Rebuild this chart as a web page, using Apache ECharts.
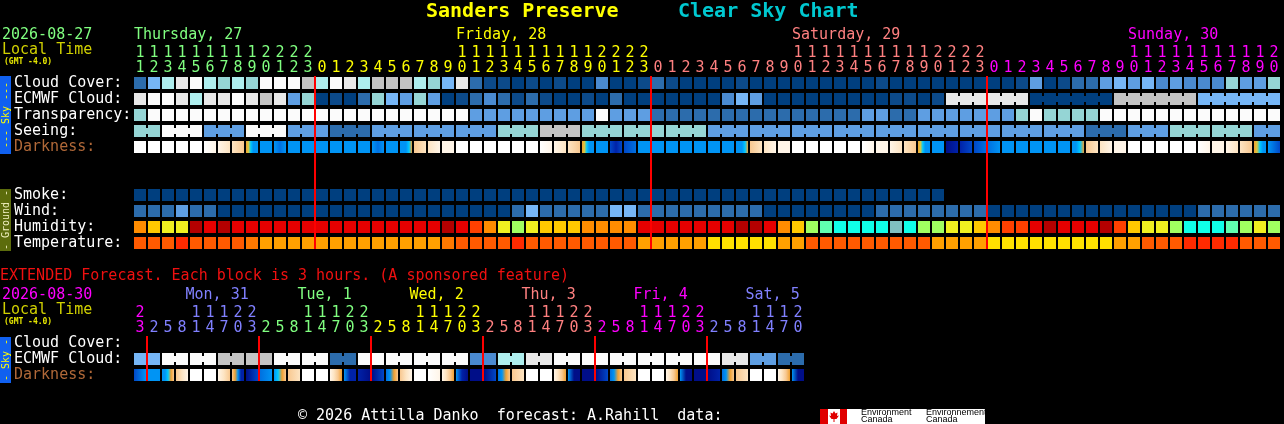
<!DOCTYPE html>
<html><head><meta charset="utf-8">
<script src="https://cdn.jsdelivr.net/npm/echarts@6/dist/echarts.min.js"></script>
<style>html,body{margin:0;padding:0;background:#000;overflow:hidden}#c{width:1284px;height:424px}</style>
</head><body><div id="c"></div>
<script>
// ---------------- DATA ----------------
const titleName = 'Sanders Preserve';
const titleChart = 'Clear Sky Chart';
const mainDate = '2026-08-27';
const extDate = '2026-08-30';
const mainDayNames = ['Thursday, 27', 'Friday, 28', 'Saturday, 29', 'Sunday, 30'];
const extDayNames = ['', 'Mon, 31', 'Tue, 1', 'Wed, 2', 'Thu, 3', 'Fri, 4', 'Sat, 5'];
const mainRows = ['Cloud Cover:', 'ECMWF Cloud:', 'Transparency:', 'Seeing:', 'Darkness:', ' ', '  ', 'Smoke:', 'Wind:', 'Humidity:', 'Temperature:'];
const extRows = ['Cloud Cover:', 'ECMWF Cloud:', 'Darkness:'];

const mainHours = [11,12,13,14,15,16,17,18,19,20,21,22,23,
  0,1,2,3,4,5,6,7,8,9,10,11,12,13,14,15,16,17,18,19,20,21,22,23,
  0,1,2,3,4,5,6,7,8,9,10,11,12,13,14,15,16,17,18,19,20,21,22,23,
  0,1,2,3,4,5,6,7,8,9,10,11,12,13,14,15,16,17,18,19,20];
const extHours = [23,
  2,5,8,11,14,17,20,23, 2,5,8,11,14,17,20,23, 2,5,8,11,14,17,20,23,
  2,5,8,11,14,17,20,23, 2,5,8,11,14,17,20,23, 2,5,8,11,14,17,20];

// level indices: 0 = darkest blue (best) ... 10 = white
const cloudCover = [2,5,7,9,10,7,6,7,6,10, 10,10,8,7,10,9,7,8,8,8, 7,6,5,9,2,1,1,0,1,0,
  1,0,0,3,0,0,1,2,1,0, 0,0,0,1,0,0,0,0,0,0, 0,0,0,1,0,0,0,0,0,0,
  0,0,0,1,4,0,1,2,2,4, 5,4,5,3,4,3,3,3,6,4, 4,6];
const ecmwfCloud = [9,10,10,9,7,9,9,10,9,8, 9,4,6,0,1,0,2,6,5,4, 6,4,0,1,2,3,2,1,2,1,
  0,0,1,0,2,0,0,0,0,0, 0,0,3,5,4,0,0,0,0,0, 0,0,0,0,1,1,0,1,9,9,
  9,9,9,9,0,0,0,0,0,0, 8,8,8,8,8,8,5,5,5,5, 5,5];
const transparency = [6,10,10,10,10,10,10,10,10,10, 10,10,10,10,10,10,10,10,10,10, 10,10,10,10,4,4,4,4,4,4,
  4,4,4,10,4,4,4,2,2,2, 2,2,2,2,2,2,2,2,2,2, 2,2,4,4,2,2,4,4,4,4,
  4,4,4,6,10,6,6,6,6,10, 10,10,10,10,10,10,10,10,10,10, 10,10];
const seeing = [6,6,10,10,10,4,4,4,10,10, 10,4,4,4,2,2,2,4,4,4, 4,4,4,4,4,4,6,6,6,8,
  8,8,6,6,6,6,6,6,6,6, 6,4,4,4,4,4,4,4,4,4, 4,4,4,4,4,4,4,4,4,4,
  4,4,4,4,4,4,4,4,2,2, 2,4,4,4,6,6,6,6,6,6, 4,4];
// darkness: colour stops (left to right) inside each hourly block
const darkness = [[0],[0],[0],[0],[0],[0,1],[1,2],[2,3],[4,5,6,7,7,7],[7],
  [7,8,7],[7],[7],[7],[7],[7],[7],[7,8,7],[7],[7,7,7,6,4],
  [3,2],[2,1],[1],[0],[0],[0],[0],[0],[0],[0,1],
  [1,2],[2,3],[4,5,6,7,7,7],[7],[9,10,9],[9,8],[7],[7],[7],[7],
  [7],[7],[7],[7,7,7,6,4],[3,2],[2,1],[1],[0],[0],[0],
  [0],[0],[0,1],[1],[1,2],[2,3],[4,5,6,7,7,7],[7],[11,10],[10,9],
  [9,8],[8,7],[7],[7],[7],[7],[7],[7,7,6,4],[3,2],[2,1],
  [1],[0],[0],[0],[0],[0],[0,1],[1,1],[1,2],[2,3],
  [4,5,6,7,7],[7,9]];
const smoke = [0,0,0,0,0,0,0,0,0,0, 0,0,0,0,0,0,0,0,0,0, 0,0,0,0,0,0,0,0,0,0,
  0,0,0,0,0,0,0,0,0,0, 0,0,0,0,0,0,0,0,0,0, 0,0,0,0,0,0,0,0];
const wind = [2,2,2,4,2,2,0,0,0,0, 0,0,0,0,0,0,0,0,0,0, 0,0,0,0,0,0,0,2,5,2,
  2,2,2,2,5,5,2,2,2,2, 2,2,2,2,2,0,0,0,0,0, 0,0,0,2,2,2,2,2,2,2,
  2,0,0,0,0,0,0,0,0,0, 0,0,0,0,0,0,2,2,2,2, 2,2];
const humidity = [6,5,4,4,9,8,9,8,8,8, 8,8,8,8,8,8,8,8,8,8, 8,8,9,8,7,6,4,3,4,5,
  5,5,6,6,6,6,8,8,8,8, 8,8,8,9,9,8,6,5,3,2, 1,1,1,1,0,1,3,3,4,4,
  5,6,7,7,8,9,8,8,8,9, 7,5,4,4,3,1,1,1,2,3, 4,3];
const temperature = [3,3,3,4,3,3,3,3,2,1, 1,1,1,1,1,1,1,1,1,1, 1,1,2,3,3,3,3,4,3,3,
  3,3,3,3,3,3,1,1,1,1, 1,0,0,0,0,0,1,1,3,3, 3,3,3,3,3,3,3,1,1,1,
  1,0,0,0,0,0,0,0,0,0, 1,1,3,3,3,4,4,4,4,3, 3,3];

const extCloudCover = [];
const extEcmwf = [5,5,10,10,10,10,8,8,8,8, 10,10,10,10,2,2,10,10,10,10,
  10,10,10,10,3,3,7,7,9,9, 10,10,10,10,10,10,10,10,10,10, 10,10,9,9,4,4,2,2];
const extDarkness = [[9,7],[7],[7,7,6,4,3],[3,2,1],[0],[0],[1,2,3],[3,4,7,10,10],[11,9],[8,7],
  [7,6,4,3],[3,2],[0],[0],[1,2,3,4],[7,10,10],[10,11],[11,9],[8,7,4,3],[3,2,1],
  [0],[0,1],[1,2,3,4],[7,10,11],[11,11],[11,9],[8,7,4,3],[3,2],[0],[0],
  [1,2,3,4],[7,11,11],[11],[11,9],[8,7,4,3],[3,2],[0],[0],[1,2,3,4],[7,11,11],
  [11],[11,10],[8,7,4,3],[3,2],[0],[0],[1,2,3,4],[7,11,11]];

// ---------------- STYLE ----------------
const FONT = '"DejaVu Sans Mono", monospace';
const skyPal = ['#003f7f','#0c4a8a','#2c6cac','#4a8ad0','#5e9ee2','#76b6f6','#95d5d5','#aeeeee','#c4c4c4','#e8e8e8','#fbfbfb'];
const darkPal = ['#ffffff','#fff5e8','#fde4c2','#f8c890','#f0a030','#d8c840','#00c8ff','#0094f4','#0070e0','#0048c8','#0022a8','#000e88'];
const humPal = ['#80c0c0','#10ffe8','#60ffb0','#a0ff60','#f0f020','#ffc800','#ff8c00','#ff4000','#e60000','#b40000'];
const tempPal = ['#ffe000','#ffa000','#ff7800','#ff5a00','#ff2a00'];
const dayCycle = ['#80ff80','#ffff00','#ff8080','#ff00ff','#8080ff'];
const BROWN = '#b06838';

function dayIndexFor(hours, start) {
  let d = start;
  return hours.map((h, i) => { if (i > 0 && h < hours[i - 1]) d++; return d; });
}
const mainDayOf = dayIndexFor(mainHours, 0);
const extDayOf = dayIndexFor(extHours, 3);

function darkFill(stops) {
  if (stops.length === 1) return darkPal[stops[0]];
  return new echarts.graphic.LinearGradient(0, 0, 1, 0,
    stops.map((s, k) => ({ offset: k / (stops.length - 1), color: darkPal[s] })));
}

function blockSeries(g, row, values, colorOf, joinTest) {
  const data = [];
  values.forEach((v, i) => { if (v !== null && v !== undefined) data.push([i, row]); });
  return {
    type: 'custom', xAxisIndex: g, yAxisIndex: g, silent: true, animation: false, z: 2,
    data,
    renderItem(params, api) {
      const col = api.value(0);
      const p = api.coord([col, api.value(1)]);
      const bw = api.size([1, 0])[0];
      const v = values[col];
      const fill = colorOf(v);
      const children = [{ type: 'rect', shape: { x: p[0] - 6, y: p[1] - 6, width: 12, height: 12 }, style: { fill } }];
      if (joinTest && col + 1 < values.length && values[col + 1] === v && joinTest(col)) {
        children.push({ type: 'rect', shape: { x: p[0] + 6, y: p[1] - 3, width: bw - 12, height: 6 }, style: { fill } });
      }
      return { type: 'group', children };
    }
  };
}

function midnightSeries(g, hours) {
  const data = [];
  hours.forEach((h, i) => { if (i > 0 && h < hours[i - 1]) data.push([i, 0]); });
  return {
    type: 'custom', xAxisIndex: g, yAxisIndex: g, silent: true, animation: false, z: 5, data,
    renderItem(params, api) {
      const p = api.coord([api.value(0), 0]);
      const bw = api.size([1, 0])[0];
      const cs = params.coordSys;
      return { type: 'rect', shape: { x: Math.round(p[0] - bw / 2 - 1), y: cs.y + 1, width: 2, height: cs.height - 3 }, style: { fill: '#ff0000' } };
    }
  };
}

function hourAxis(g, hours, dayOf) {
  return {
    gridIndex: g, type: 'category', data: hours.map(String), position: 'top',
    axisLine: { show: false }, axisTick: { show: false }, splitLine: { show: false },
    axisLabel: {
      interval: 0, margin: -1, fontFamily: FONT, fontSize: 15, lineHeight: 15,
      color: (v, i) => dayCycle[dayOf[i] % 5],
      formatter: (v) => { const h = +v; return (h >= 10 ? String(Math.floor(h / 10)) : ' ') + '\n' + (h % 10); }
    }
  };
}
function rowAxis(g, rows) {
  return {
    gridIndex: g, type: 'category', inverse: true, data: rows,
    axisLine: { show: false }, axisTick: { show: false }, splitLine: { show: false },
    axisLabel: { interval: 0, margin: 119, align: 'left', fontFamily: FONT, fontSize: 15,
      color: (v) => v === 'Darkness:' ? BROWN : '#ffffff' }
  };
}

const sky = (v) => skyPal[v];
const seeingJoin = (i) => mainHours[i + 1] % 3 !== 1;
const ecmwfJoin = (i) => i >= 58 && mainHours[i + 1] % 6 !== 3;
const extJoin = (i) => (extHours[i] + 1) % 6 === 0;

const chart = echarts.init(document.getElementById('c'), null, { renderer: 'canvas', width: 1284, height: 424 });
chart.setOption({
  backgroundColor: '#000000',
  animation: false,
  grid: [
    { left: 133, top: 75, width: 1148, height: 176 },
    { left: 133, top: 335, width: 672, height: 48 }
  ],
  xAxis: [hourAxis(0, mainHours, mainDayOf), hourAxis(1, extHours, extDayOf)],
  yAxis: [rowAxis(0, mainRows), rowAxis(1, extRows)],
  series: [
    blockSeries(0, 0, cloudCover, sky),
    blockSeries(0, 1, ecmwfCloud, sky, ecmwfJoin),
    blockSeries(0, 2, transparency, sky),
    blockSeries(0, 3, seeing, sky, seeingJoin),
    blockSeries(0, 4, darkness, darkFill),
    blockSeries(0, 7, smoke, sky),
    blockSeries(0, 8, wind, sky),
    blockSeries(0, 9, humidity, (v) => humPal[v]),
    blockSeries(0, 10, temperature, (v) => tempPal[v]),
    midnightSeries(0, mainHours),
    blockSeries(1, 0, extCloudCover, sky),
    blockSeries(1, 1, extEcmwf, sky, extJoin),
    blockSeries(1, 2, extDarkness, darkFill),
    midnightSeries(1, extHours)
  ]
});

// ---------------- TEXT / DECOR ----------------
function txt(text, x, y, fill, font, extra) {
  return Object.assign({ type: 'text', x, y, z: 10, silent: true,
    style: { text, fill, font, align: 'left', verticalAlign: 'middle', textAlign: 'left', textVerticalAlign: 'middle' } }, extra || {});
}
const F15 = '15px ' + FONT;
const g = [];
g.push(txt(titleName, 426, 12, '#ffff00', 'bold 20px ' + FONT));
g.push(txt(titleChart, 678, 12, '#00c8d0', 'bold 20px ' + FONT));
g.push(txt(mainDate, 2, 35, '#80ff80', F15));
g.push(txt('Local Time', 2, 50, '#d0d000', F15));
g.push(txt('(GMT -4.0)', 4, 62, '#e8e800', 'bold 8px ' + FONT));
g.push(txt('EXTENDED Forecast. Each block is 3 hours. (A sponsored feature)', 0, 276, '#f01010', F15));
g.push(txt(extDate, 2, 295, '#ff00ff', F15));
g.push(txt('Local Time', 2, 310, '#d0d000', F15));
g.push(txt('(GMT -4.0)', 4, 322, '#e8e800', 'bold 8px ' + FONT));
g.push(txt('\u00a9 2026 Attilla Danko  forecast: A.Rahill  data:', 298, 416, '#ffffff', F15));

// day labels, positioned from the axes
function dayLabels(gi, hours, dayOf, names, base, shift) {
  names.forEach((name, k) => {
    if (!name) return;
    const d = base + k;
    const col = hours.findIndex((h, i) => dayOf[i] === d && h >= 10);
    if (col < 0) return;
    const px = chart.convertToPixel({ gridIndex: gi }, [col, 0]);
    g.push(txt(name, px[0] - 6 + shift, gi === 0 ? 35 : 295, dayCycle[d % 5], F15));
  });
}
dayLabels(0, mainHours, mainDayOf, mainDayNames, 0, 0);
dayLabels(1, extHours, extDayOf, extDayNames, 3, -4.5);

// side boxes
function sideBox(y, h, color, label, textColor) {
  g.push({ type: 'rect', z: 9, silent: true, shape: { x: 0, y, width: 11, height: h }, style: { fill: color } });
  g.push({ type: 'text', z: 10, silent: true, x: 6, y: y + h / 2, rotation: Math.PI / 2,
    style: { text: label, fill: textColor, font: '10px ' + FONT, align: 'center', verticalAlign: 'middle', textAlign: 'center', textVerticalAlign: 'middle' } });
}
sideBox(76, 78, '#1060f0', '--- Sky ---', '#ffff00');
sideBox(189, 62, '#5c6c0c', '- Ground -', '#f0f0c0');
sideBox(337, 46, '#1060f0', '- Sky -', '#ffff00');

// Environment Canada logo
g.push({ type: 'rect', z: 9, silent: true, shape: { x: 820, y: 409, width: 165, height: 15 }, style: { fill: '#ffffff' } });
g.push({ type: 'rect', z: 10, silent: true, shape: { x: 820, y: 409, width: 8, height: 15 }, style: { fill: '#e00000' } });
g.push({ type: 'rect', z: 10, silent: true, shape: { x: 840, y: 409, width: 7, height: 15 }, style: { fill: '#e00000' } });
g.push({ type: 'polygon', z: 10, silent: true, shape: { points: [[834,411],[835.5,413.5],[837.5,412.5],[837,416],[839,415.5],[836.5,419],[834.5,419],[834.5,422],[833.5,422],[833.5,419],[831.5,419],[829,415.5],[831,416],[830.5,412.5],[832.5,413.5]] }, style: { fill: '#e00000' } });
g.push(txt('Environment', 861, 413, '#000000', '9px "Liberation Sans"'));
g.push(txt('Canada', 861, 420, '#000000', '9px "Liberation Sans"'));
g.push(txt('Environnement', 926, 413, '#000000', '9px "Liberation Sans"'));
g.push(txt('Canada', 926, 420, '#000000', '9px "Liberation Sans"'));

chart.setOption({ graphic: { elements: g } });
</script></body></html>
